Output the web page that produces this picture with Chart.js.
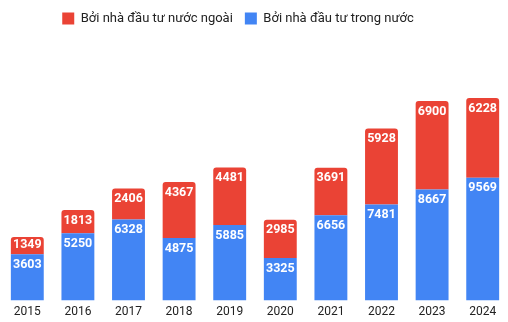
<!DOCTYPE html>
<html>
<head>
<meta charset="utf-8">
<script src="https://cdn.jsdelivr.net/npm/chart.js@4"></script>
<style>
  html, body { margin: 0; padding: 0; background: #fff; }
  #wrap { width: 508px; height: 322px; position: relative; }
</style>
</head>
<body>
<div id="wrap"><canvas id="c"></canvas></div>
<script>
const years = ['2015', '2016', '2017', '2018', '2019', '2020', '2021', '2022', '2023', '2024'];
const domestic = [3603, 5250, 6328, 4875, 5885, 3325, 6656, 7481, 8667, 9569];
const foreign = [1349, 1813, 2406, 4367, 4481, 2985, 3691, 5928, 6900, 6228];
const foreignLabel = 'Bởi nhà đầu tư nước ngoài';
const domesticLabel = 'Bởi nhà đầu tư trong nước';

const RED = '#EA4335';
const BLUE = '#4285F4';
const FONT = 'Roboto, Arial, sans-serif';

// Value labels drawn near the top of each stacked segment
const segmentLabels = {
  id: 'segmentLabels',
  afterDatasetsDraw(chart) {
    const ctx = chart.ctx;
    ctx.save();
    ctx.fillStyle = '#fff';
    ctx.font = 'bold 12.5px ' + FONT;
    ctx.textAlign = 'center';
    ctx.textBaseline = 'middle';
    chart.data.datasets.forEach((ds, di) => {
      const meta = chart.getDatasetMeta(di);
      if (meta.hidden) return;
      meta.data.forEach((el, i) => {
        const p = el.getProps(['x', 'y', 'base'], true);
        const h = p.base - p.y;
        const cy = h < 22 ? (p.y + p.base) / 2 - 1 : p.y + 10.5;
        ctx.fillText(String(ds.data[i]), p.x, cy);
      });
    });
    ctx.restore();
  }
};

// Legend: shifted slightly left of centre, with extra room beneath it
const legendTweaks = {
  id: 'legendTweaks',
  beforeInit(chart) {
    const lg = chart.legend;
    if (!lg) return;
    const origFit = lg.fit;
    lg.fit = function () {
      origFit.call(this);
      this.height += 9;
    };
  },
  afterLayout(chart) {
    const lg = chart.legend;
    if (lg) { lg.left -= 17; lg.right -= 17; }
  }
};

new Chart(document.getElementById('c'), {
  type: 'bar',
  data: {
    labels: years,
    datasets: [
      {
        label: domesticLabel,
        data: domestic,
        backgroundColor: BLUE,
        borderRadius: 0
      },
      {
        label: foreignLabel,
        data: foreign,
        backgroundColor: RED,
        borderRadius: { topLeft: 3, topRight: 3, bottomLeft: 0, bottomRight: 0 },
        borderSkipped: false
      }
    ]
  },
  options: {
    responsive: true,
    maintainAspectRatio: false,
    animation: false,
    layout: { padding: { left: 2, right: 0, top: 0, bottom: 7 } },
    datasets: { bar: { barPercentage: 0.65, categoryPercentage: 1 } },
    plugins: {
      legend: {
        position: 'top',
        reverse: true,
        labels: {
          boxWidth: 12,
          boxHeight: 12,
          padding: 12,
          color: '#222',
          font: { family: FONT, size: 13 }
        }
      },
      tooltip: { enabled: false }
    },
    scales: {
      x: {
        stacked: true,
        grid: { display: false },
        border: { display: false },
        ticks: { color: '#222', font: { family: FONT, size: 12 }, padding: -4 }
      },
      y: {
        stacked: true,
        display: false,
        min: 0,
        max: 20000
      }
    }
  },
  plugins: [segmentLabels, legendTweaks]
});
</script>
</body>
</html>
